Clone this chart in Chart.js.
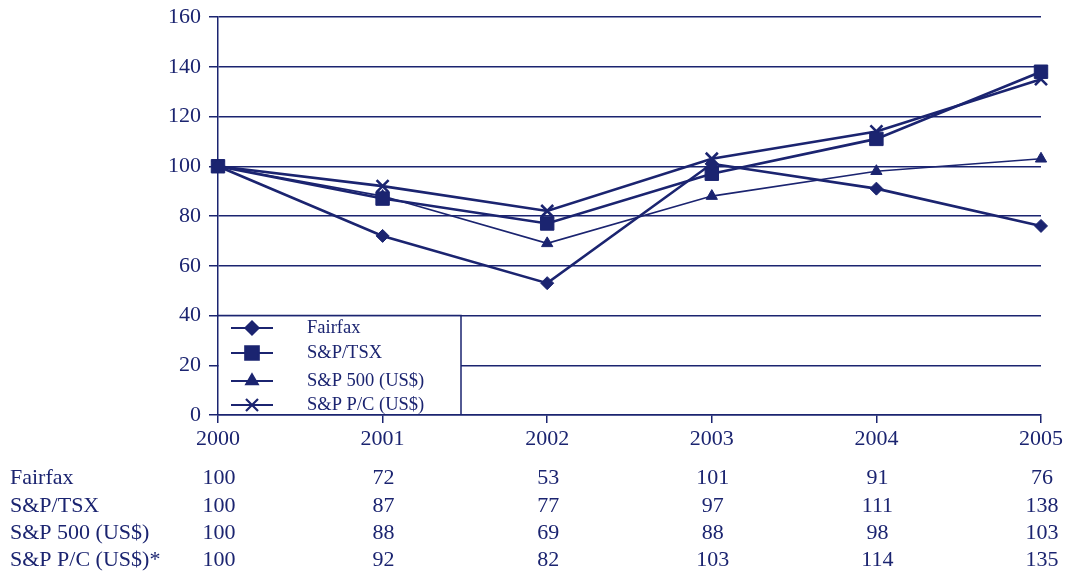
<!DOCTYPE html>
<html>
<head>
<meta charset="utf-8">
<script src="https://cdn.jsdelivr.net/npm/chart.js@4/dist/chart.umd.min.js"></script>
<style>
  html, body { margin: 0; padding: 0; background: #fff; }
  #wrap { width: 1067px; height: 574px; }
</style>
</head>
<body>
<div id="wrap"><canvas id="myChart"></canvas></div>
<script>
const years = ['2000', '2001', '2002', '2003', '2004', '2005']
const yTicks = [0, 20, 40, 60, 80, 100, 120, 140, 160]

const seriesNames = ['Fairfax', 'S&P/TSX', 'S&P 500 (US$)', 'S&P P/C (US$)']
const tableNames = ['Fairfax', 'S&P/TSX', 'S&P 500 (US$)', 'S&P P/C (US$)*']

const fairfax = [100, 72, 53, 101, 91, 76]
const spTsx = [100, 87, 77, 97, 111, 138]
const sp500 = [100, 88, 69, 88, 98, 103]
const spPc = [100, 92, 82, 103, 114, 135]

const navy = '#1b2470'
const serif = "'Liberation Serif', 'Times New Roman', serif"

const styles = [
    { pointStyle: 'rectRot', pointRadius: 6.5, borderWidth: 2.6 },
    { pointStyle: 'rect', pointRadius: 9.5, borderWidth: 2.6 },
    { pointStyle: 'triangle', pointRadius: 6.5, borderWidth: 1.6 },
    { pointStyle: 'crossRot', pointRadius: 8.5, borderWidth: 2.6 }
]
const allSeries = [fairfax, spTsx, sp500, spPc]

const datasets = allSeries.map((vals, i) => ({
    label: seriesNames[i],
    data: vals,
    borderColor: navy,
    backgroundColor: navy,
    borderWidth: styles[i].borderWidth,
    pointStyle: styles[i].pointStyle,
    pointRadius: styles[i].pointRadius,
    pointBorderWidth: styles[i].pointStyle == 'crossRot' ? 2.6 : 1,
    pointHoverRadius: styles[i].pointRadius,
    tension: 0,
    fill: false
}))

// legend box and data table under the axis
const extras = {
    id: 'extras',
    afterDatasetsDraw(chart) {
        const ctx = chart.ctx
        const x = chart.scales.x
        const y = chart.scales.y
        const left = chart.chartArea.left
        const top = y.getPixelForValue(40)
        const bottom = y.getPixelForValue(0)
        const right = 461

        ctx.save()
        ctx.fillStyle = '#fff'
        ctx.fillRect(left + 1, top + 1, right - left - 1, bottom - top - 2)
        ctx.strokeStyle = navy
        ctx.lineWidth = 1.5
        ctx.beginPath()
        ctx.moveTo(left, top)
        ctx.lineTo(right, top)
        ctx.lineTo(right, bottom)
        ctx.stroke()

        const rowsY = [328, 353, 381, 405]
        ctx.font = '18.5px ' + serif
        ctx.textBaseline = 'middle'
        for (let i = 0; i < datasets.length; i++) {
            const ry = rowsY[i]
            ctx.strokeStyle = navy
            ctx.fillStyle = navy
            ctx.lineWidth = 2.2
            ctx.beginPath()
            ctx.moveTo(231, ry)
            ctx.lineTo(273, ry)
            ctx.stroke()
            Chart.helpers.drawPoint(ctx, {
                pointStyle: styles[i].pointStyle,
                radius: styles[i].pointRadius,
                borderWidth: styles[i].pointStyle == 'crossRot' ? 2.6 : 1,
                rotation: 0
            }, 252, ry)
            ctx.textAlign = 'left'
            ctx.fillText(seriesNames[i], 307, ry)
        }

        // data table
        const tableY = [478, 506, 533, 560]
        ctx.font = '22px ' + serif
        ctx.fillStyle = navy
        for (let r = 0; r < allSeries.length; r++) {
            ctx.textAlign = 'left'
            ctx.fillText(tableNames[r], 10, tableY[r])
            ctx.textAlign = 'center'
            for (let c = 0; c < years.length; c++) {
                ctx.fillText(String(allSeries[r][c]), x.getPixelForValue(c) + 1, tableY[r])
            }
        }
        ctx.restore()
    }
}

const config = {
    type: 'line',
    data: { labels: years, datasets: datasets },
    options: {
        responsive: false,
        animation: false,
        devicePixelRatio: 1,
        layout: { padding: { left: 0, right: 26, top: 17, bottom: 0 } },
        plugins: { legend: { display: false }, tooltip: { enabled: false } },
        scales: {
            x: {
                offset: false,
                grid: { display: true, drawOnChartArea: false, drawTicks: true, tickLength: 8, color: navy, lineWidth: 1.5 },
                border: { display: true, color: navy, width: 1.5 },
                ticks: { color: navy, font: { family: serif, size: 22 }, padding: 3, maxRotation: 0 },
                afterFit: s => { s.height = 159 }
            },
            y: {
                min: 0,
                max: 160,
                afterBuildTicks: s => { s.ticks = yTicks.map(v => ({ value: v })) },
                grid: { color: navy, lineWidth: 1.5, tickLength: 9 },
                border: { display: true, color: navy, width: 1.5 },
                ticks: { color: navy, font: { family: serif, size: 22 }, padding: 8 },
                afterFit: s => { s.width = 218; s.paddingTop = 0; s.paddingBottom = 0 }
            }
        }
    },
    plugins: [extras]
}

const canvas = document.getElementById('myChart')
canvas.width = 1067
canvas.height = 574
const myChart = new Chart(canvas, config)
</script>
</body>
</html>
